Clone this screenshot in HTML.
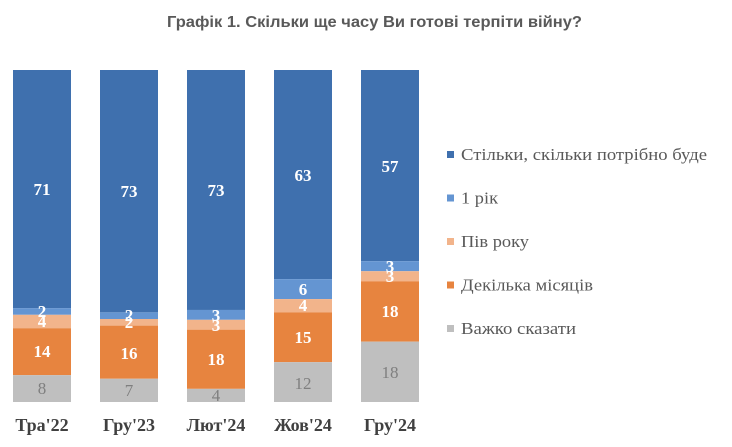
<!DOCTYPE html>
<html>
<head>
<meta charset="utf-8">
<style>
html,body{margin:0;padding:0;background:#fff;}
svg{display:block;}
.t{font-family:"Liberation Sans",Arial,sans-serif;font-weight:bold;font-size:16px;fill:#595959;}
.lg{font-family:"Liberation Serif","Times New Roman",serif;font-size:17px;fill:#595959;}
.cat{font-family:"Liberation Serif","Times New Roman",serif;font-weight:bold;font-size:18px;fill:#404040;}
.w{font-family:"Liberation Serif","Times New Roman",serif;font-weight:bold;font-size:17px;fill:#fff;}
.g{font-family:"Liberation Serif","Times New Roman",serif;font-size:17px;fill:#7f7f7f;}
</style>
</head>
<body>
<svg width="732" height="447" viewBox="0 0 732 447" xmlns="http://www.w3.org/2000/svg">
<rect width="732" height="447" fill="#fff"/>
<text class="t" x="167" y="27" textLength="415" lengthAdjust="spacingAndGlyphs">Графік 1. Скільки ще часу Ви готові терпіти війну?</text>

<!-- Bar 1 -->
<g>
<rect x="13" y="70" width="58" height="238.1" fill="#3F70AE"/>
<rect x="13" y="308.1" width="58" height="6.71" fill="#6495D2"/>
<rect x="13" y="314.81" width="58" height="13.41" fill="#F2B48B"/>
<rect x="13" y="328.22" width="58" height="46.95" fill="#E7843F"/>
<rect x="13" y="375.17" width="58" height="26.83" fill="#BFBFBF"/>
<text class="w" x="42" y="195" text-anchor="middle">71</text>
<text class="w" x="42" y="317" text-anchor="middle">2</text>
<text class="w" x="42" y="327" text-anchor="middle">4</text>
<text class="w" x="42" y="357" text-anchor="middle">14</text>
<text class="g" x="42" y="394" text-anchor="middle">8</text>
<text class="cat" x="42" y="431" text-anchor="middle">Тра'22</text>
</g>

<!-- Bar 2 -->
<g>
<rect x="100" y="70" width="58" height="242.36" fill="#3F70AE"/>
<rect x="100" y="312.36" width="58" height="6.64" fill="#6495D2"/>
<rect x="100" y="319" width="58" height="6.64" fill="#F2B48B"/>
<rect x="100" y="325.64" width="58" height="53.12" fill="#E7843F"/>
<rect x="100" y="378.76" width="58" height="23.24" fill="#BFBFBF"/>
<text class="w" x="129" y="197" text-anchor="middle">73</text>
<text class="w" x="129" y="321" text-anchor="middle">2</text>
<text class="w" x="129" y="328" text-anchor="middle">2</text>
<text class="w" x="129" y="359" text-anchor="middle">16</text>
<text class="g" x="129" y="396" text-anchor="middle">7</text>
<text class="cat" x="129" y="431" text-anchor="middle">Гру'23</text>
</g>

<!-- Bar 3 -->
<g>
<rect x="187" y="70" width="58" height="239.96" fill="#3F70AE"/>
<rect x="187" y="309.96" width="58" height="9.86" fill="#6495D2"/>
<rect x="187" y="319.82" width="58" height="9.86" fill="#F2B48B"/>
<rect x="187" y="329.68" width="58" height="59.17" fill="#E7843F"/>
<rect x="187" y="388.85" width="58" height="13.15" fill="#BFBFBF"/>
<text class="w" x="216" y="196" text-anchor="middle">73</text>
<text class="w" x="216" y="321" text-anchor="middle">3</text>
<text class="w" x="216" y="331" text-anchor="middle">3</text>
<text class="w" x="216" y="365" text-anchor="middle">18</text>
<text class="g" x="216" y="401" text-anchor="middle">4</text>
<text class="cat" x="216" y="431" text-anchor="middle">Лют'24</text>
</g>

<!-- Bar 4 -->
<g>
<rect x="274" y="70" width="58" height="209.16" fill="#3F70AE"/>
<rect x="274" y="279.16" width="58" height="19.92" fill="#6495D2"/>
<rect x="274" y="299.08" width="58" height="13.28" fill="#F2B48B"/>
<rect x="274" y="312.36" width="58" height="49.8" fill="#E7843F"/>
<rect x="274" y="362.16" width="58" height="39.84" fill="#BFBFBF"/>
<text class="w" x="303" y="181" text-anchor="middle">63</text>
<text class="w" x="303" y="295" text-anchor="middle">6</text>
<text class="w" x="303" y="311" text-anchor="middle">4</text>
<text class="w" x="303" y="343" text-anchor="middle">15</text>
<text class="g" x="303" y="389" text-anchor="middle">12</text>
<text class="cat" x="303" y="431" text-anchor="middle">Жов'24</text>
</g>

<!-- Bar 5 -->
<g>
<rect x="361" y="70" width="58" height="191.16" fill="#3F70AE"/>
<rect x="361" y="261.16" width="58" height="10.06" fill="#6495D2"/>
<rect x="361" y="271.22" width="58" height="10.06" fill="#F2B48B"/>
<rect x="361" y="281.28" width="58" height="60.36" fill="#E7843F"/>
<rect x="361" y="341.64" width="58" height="60.36" fill="#BFBFBF"/>
<text class="w" x="390" y="172" text-anchor="middle">57</text>
<text class="w" x="390" y="272" text-anchor="middle">3</text>
<text class="w" x="390" y="282" text-anchor="middle">3</text>
<text class="w" x="390" y="317" text-anchor="middle">18</text>
<text class="g" x="390" y="378" text-anchor="middle">18</text>
<text class="cat" x="390" y="431" text-anchor="middle">Гру'24</text>
</g>

<!-- Legend -->
<g>
<rect x="447" y="151" width="7" height="7" fill="#3F70AE"/>
<text class="lg" x="461" y="160" textLength="246" lengthAdjust="spacingAndGlyphs">Стільки, скільки потрібно буде</text>
<rect x="447" y="194.5" width="7" height="7" fill="#6495D2"/>
<text class="lg" x="461" y="203.5" textLength="37" lengthAdjust="spacingAndGlyphs">1 рік</text>
<rect x="447" y="238" width="7" height="7" fill="#F2B48B"/>
<text class="lg" x="461" y="247" textLength="68" lengthAdjust="spacingAndGlyphs">Пів року</text>
<rect x="447" y="281.5" width="7" height="7" fill="#E7843F"/>
<text class="lg" x="461" y="290.5" textLength="132" lengthAdjust="spacingAndGlyphs">Декілька місяців</text>
<rect x="447" y="325" width="7" height="7" fill="#BFBFBF"/>
<text class="lg" x="461" y="334" textLength="115" lengthAdjust="spacingAndGlyphs">Важко сказати</text>
</g>
</svg>
</body>
</html>
